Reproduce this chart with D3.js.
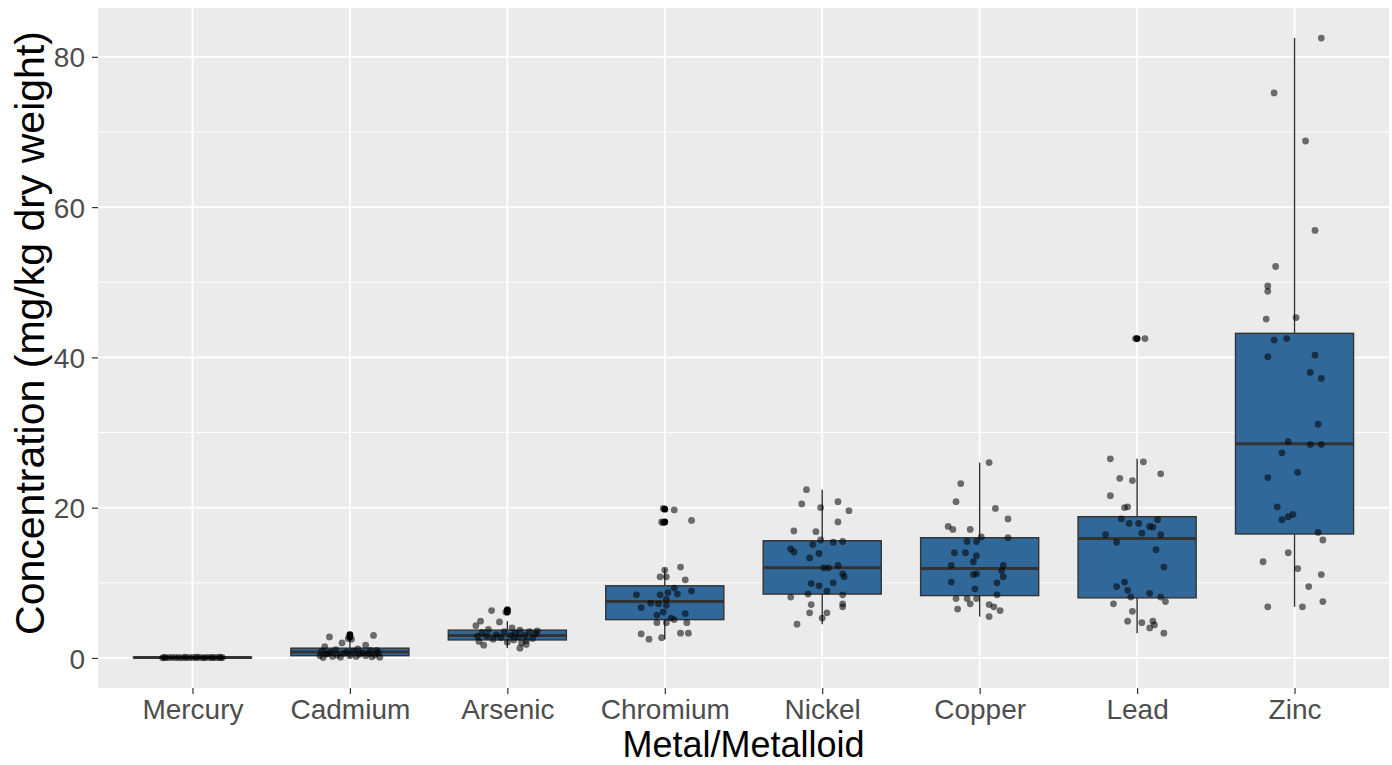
<!DOCTYPE html>
<html>
<head>
<meta charset="utf-8">
<script src="https://cdn.jsdelivr.net/npm/d3@7"></script>
<style>
  body { margin: 0; background: #fff; }
  svg { display: block; }
</style>
</head>
<body>
<div id="chart"></div>
<script>
// metals in plotting order
var metals = ["Mercury", "Cadmium", "Arsenic", "Chromium", "Nickel", "Copper", "Lead", "Zinc"];

// box statistics (mg/kg)
var q1 = [0.03, 0.3, 2.4, 5.1, 8.5, 8.3, 8.0, 16.5];
var medians = [0.05, 0.8, 3.0, 7.5, 12.0, 11.9, 15.9, 28.5];
var q3 = [0.08, 1.3, 3.7, 9.6, 15.6, 16.0, 18.8, 43.2];
var whiskerLow = [0.01, 0.05, 1.3, 2.5, 4.5, 5.5, 3.3, 6.8];
var whiskerHigh = [0.12, 2.6, 4.9, 11.9, 22.4, 26.0, 26.5, 82.5];
var outliers = [[], [2.8, 3.1], [6.1, 6.4], [18.1, 19.8], [], [], [42.5], []];

var yTicks = [0, 20, 40, 60, 80];
var yMinor = [10, 30, 50, 70];

// jittered samples: [concentration, jitter as fraction of category spacing]
var mercury = [[0.02,-0.19],[0.05,-0.17],[0.03,-0.15],[0.08,-0.13],[0.04,-0.11],[0.06,-0.09],[0.02,-0.07],[0.09,-0.05],
  [0.05,-0.04],[0.03,-0.02],[0.07,0.0],[0.04,0.02],[0.1,0.03],[0.06,0.05],[0.02,0.07],[0.05,0.08],[0.08,0.10],
  [0.03,0.12],[0.06,0.13],[0.04,0.15],[0.09,0.17],[0.05,0.19],[0.07,-0.18],[0.03,0.18]];
var cadmium = [[2.8,-0.13],[2.6,-0.01],[2.5,0.01],[3.0,0.15],[2.0,-0.05],[1.7,0.10],[1.5,-0.16],[1.2,0.05],[1.1,-0.09],
  [1.0,0.13],[0.9,-0.18],[0.9,0.02],[0.8,-0.12],[0.7,0.08],[0.7,0.18],[0.6,-0.04],[0.6,0.12],[0.5,-0.15],[0.5,0.06],
  [0.4,-0.08],[0.4,0.16],[0.3,-0.19],[0.3,0.0],[0.3,0.10],[0.2,-0.11],[0.2,0.04],[0.15,0.14],[0.1,-0.06],[0.1,0.19],
  [0.05,-0.17],[0.8,-0.02],[1.0,0.17],[0.6,-0.14]];
var arsenic = [[6.3,-0.10],[6.4,0.0],[6.1,-0.01],[4.9,-0.17],[4.8,-0.05],[4.3,-0.20],[4.0,0.03],[3.8,-0.12],[3.7,0.08],
  [3.5,-0.02],[3.5,0.14],[3.4,-0.16],[3.3,0.05],[3.2,0.18],[3.1,-0.07],[3.0,0.02],[3.0,0.11],[2.9,-0.13],[2.8,0.07],
  [2.7,-0.04],[2.6,0.16],[2.5,-0.09],[2.4,0.04],[2.3,0.12],[2.2,-0.18],[2.1,0.0],[2.0,0.09],[1.8,0.12],[1.7,-0.15],
  [1.3,0.08],[3.6,0.19],[2.9,-0.19]];
var chromium = [[19.7,0.06],[19.9,-0.01],[18.1,-0.02],[18.0,-0.01],[18.3,0.17],[11.7,0.0],[10.8,-0.03],[10.8,0.01],
  [12.1,0.10],[10.4,0.13],[8.9,0.17],[9.3,0.06],[8.7,0.02],[8.4,-0.18],[8.4,-0.03],[8.5,0.08],[7.3,-0.09],[7.2,-0.04],
  [7.0,0.01],[7.8,0.01],[6.7,-0.15],[5.7,-0.05],[6.1,-0.01],[5.9,0.13],[5.3,0.04],[5.1,0.06],[4.7,-0.05],[4.7,0.01],
  [4.7,0.14],[3.2,-0.15],[2.5,-0.10],[2.7,-0.02],[3.3,0.10],[3.3,0.15]];
var nickel = [[22.4,-0.10],[20.5,-0.13],[20.8,0.10],[20.0,-0.01],[19.6,0.17],[18.1,0.10],[16.9,-0.18],[16.8,-0.04],
  [15.7,-0.01],[15.4,0.07],[15.5,0.13],[15.1,-0.06],[14.5,-0.20],[14.1,-0.18],[13.9,-0.02],[13.3,-0.08],[12.0,0.01],
  [12.0,0.04],[12.3,0.10],[11.2,0.13],[10.8,0.14],[10.0,0.07],[9.9,-0.07],[9.6,-0.02],[8.9,0.03],[8.5,-0.09],
  [8.1,-0.20],[8.4,0.13],[7.1,-0.07],[7.2,0.13],[6.8,0.13],[6.0,-0.08],[6.0,0.03],[5.3,0.0],[4.5,-0.16]];
var copper = [[26.0,0.06],[23.2,-0.12],[20.8,-0.15],[19.9,0.10],[18.5,0.18],[17.5,-0.20],[17.1,-0.17],[17.1,-0.06],
  [16.0,0.18],[16.1,0.01],[15.5,-0.08],[15.5,-0.02],[14.0,-0.16],[14.0,-0.09],[13.6,-0.02],[12.8,-0.04],[12.3,-0.18],
  [12.3,0.15],[11.6,0.14],[11.1,-0.04],[11.2,-0.02],[10.8,0.15],[10.1,-0.18],[10.0,0.11],[9.2,-0.03],[8.4,0.11],
  [7.9,-0.15],[7.9,-0.08],[7.9,-0.02],[7.2,-0.06],[6.5,-0.14],[7.1,0.06],[6.8,0.09],[6.3,0.13],[5.5,0.06]];
var lead = [[42.5,0.05],[42.5,-0.01],[26.5,-0.17],[26.1,0.04],[24.5,0.15],[23.9,-0.11],[23.6,-0.03],[21.6,-0.17],
  [20.0,-0.08],[20.1,-0.06],[18.5,-0.10],[18.4,0.13],[17.9,-0.05],[17.9,0.01],[17.5,0.08],[17.4,0.10],[16.4,-0.20],
  [16.6,0.03],[16.4,0.15],[15.4,-0.13],[14.4,0.12],[12.1,0.17],[10.1,-0.08],[9.5,-0.13],[9.0,-0.06],[8.1,-0.04],
  [8.6,0.08],[8.1,0.15],[7.5,0.18],[7.2,-0.15],[6.2,-0.03],[4.9,-0.06],[4.7,0.03],[4.9,0.10],[4.0,0.08],[4.4,0.11],
  [3.3,0.17]];
var zinc = [[82.5,0.17],[75.2,-0.13],[68.8,0.07],[56.9,0.13],[52.1,-0.12],[49.5,-0.17],[48.8,-0.17],[45.1,-0.18],
  [45.3,0.01],[42.3,-0.13],[42.5,-0.05],[40.1,-0.17],[40.3,0.13],[38.0,0.10],[37.2,0.17],[31.1,0.15],[28.8,-0.04],
  [28.4,0.10],[28.4,0.17],[27.3,-0.08],[24.7,0.02],[24.0,-0.17],[20.1,-0.11],[18.4,-0.08],[18.8,-0.04],[19.1,-0.01],
  [16.7,0.15],[15.7,0.18],[14.0,-0.04],[12.8,-0.20],[11.9,0.02],[11.1,0.17],[9.5,0.09],[6.8,-0.17],[6.8,0.05],
  [7.5,0.18]];
var samples = [mercury, cadmium, arsenic, chromium, nickel, copper, lead, zinc];

var W = 1392, H = 765;
var panel = { left: 98, right: 1389, top: 8, bottom: 688 };

var svg = d3.select("#chart").append("svg")
  .attr("width", W)
  .attr("height", H);

var x = d3.scalePoint()
  .domain(metals)
  .range([panel.left, panel.right])
  .padding(0.6);
var step = x.step();

var y = d3.scaleLinear()
  .domain([-4.0, 86.5])
  .range([panel.bottom, panel.top]);

// panel background
svg.append("rect")
  .attr("x", panel.left)
  .attr("y", panel.top)
  .attr("width", panel.right - panel.left)
  .attr("height", panel.bottom - panel.top)
  .attr("fill", "#EBEBEB");

// grid lines
svg.append("g").selectAll("line")
  .data(yMinor)
  .enter().append("line")
  .attr("x1", panel.left).attr("x2", panel.right)
  .attr("y1", function (d) { return y(d); })
  .attr("y2", function (d) { return y(d); })
  .attr("stroke", "#fff").attr("stroke-width", 0.9);

svg.append("g").selectAll("line")
  .data(yTicks)
  .enter().append("line")
  .attr("x1", panel.left).attr("x2", panel.right)
  .attr("y1", function (d) { return y(d); })
  .attr("y2", function (d) { return y(d); })
  .attr("stroke", "#fff").attr("stroke-width", 1.8);

svg.append("g").selectAll("line")
  .data(metals)
  .enter().append("line")
  .attr("x1", function (d) { return x(d); })
  .attr("x2", function (d) { return x(d); })
  .attr("y1", panel.top).attr("y2", panel.bottom)
  .attr("stroke", "#fff").attr("stroke-width", 1.8);

// axes
var yAxis = svg.append("g")
  .attr("transform", "translate(" + panel.left + ",0)")
  .call(d3.axisLeft(y).tickValues(yTicks).tickSize(6).tickPadding(7));
var xAxis = svg.append("g")
  .attr("transform", "translate(0," + panel.bottom + ")")
  .call(d3.axisBottom(x).tickSize(6).tickPadding(3));

[yAxis, xAxis].forEach(function (g) {
  g.select(".domain").remove();
  g.selectAll(".tick line").attr("stroke", "#333").attr("stroke-width", 1.2);
  g.selectAll(".tick text")
    .attr("fill", "#4D4D4D")
    .style("font-family", "Liberation Sans, Arial, sans-serif")
    .style("font-size", "28px");
});
xAxis.selectAll(".tick text").attr("dy", "0.8em");
yAxis.selectAll(".tick text").attr("dy", "0.36em");

// boxplots
var boxW = step * 0.75;
var boxes = svg.append("g").selectAll("g")
  .data(metals)
  .enter().append("g");

boxes.append("line")
  .attr("x1", function (d) { return x(d); })
  .attr("x2", function (d) { return x(d); })
  .attr("y1", function (d, i) { return y(whiskerLow[i]); })
  .attr("y2", function (d, i) { return y(whiskerHigh[i]); })
  .attr("stroke", "#333").attr("stroke-width", 1.4);

boxes.append("rect")
  .attr("x", function (d) { return x(d) - boxW / 2; })
  .attr("y", function (d, i) { return y(q3[i]); })
  .attr("width", boxW)
  .attr("height", function (d, i) { return Math.max(0.5, y(q1[i]) - y(q3[i])); })
  .attr("fill", "#31689A")
  .attr("stroke", "#333").attr("stroke-width", 1.4);

boxes.append("line")
  .attr("x1", function (d) { return x(d) - boxW / 2; })
  .attr("x2", function (d) { return x(d) + boxW / 2; })
  .attr("y1", function (d, i) { return y(medians[i]); })
  .attr("y2", function (d, i) { return y(medians[i]); })
  .attr("stroke", "#333").attr("stroke-width", 3);

boxes.selectAll("circle")
  .data(function (d, i) { return outliers[i].map(function (v) { return { m: d, v: v }; }); })
  .enter().append("circle")
  .attr("cx", function (d) { return x(d.m); })
  .attr("cy", function (d) { return y(d.v); })
  .attr("r", 3.4)
  .attr("fill", "#000");

// jittered points
var pts = [];
samples.forEach(function (arr, i) {
  arr.forEach(function (p) { pts.push({ m: metals[i], v: p[0], j: p[1] }); });
});
svg.append("g").selectAll("circle")
  .data(pts)
  .enter().append("circle")
  .attr("cx", function (d) { return x(d.m) + d.j * step; })
  .attr("cy", function (d) { return y(d.v); })
  .attr("r", 3.4)
  .attr("fill", "#000")
  .attr("fill-opacity", 0.55);

// axis titles
svg.append("text")
  .attr("x", (panel.left + panel.right) / 2)
  .attr("y", 757)
  .attr("text-anchor", "middle")
  .style("font-family", "Liberation Sans, Arial, sans-serif")
  .style("font-size", "36px")
  .attr("fill", "#000")
  .text("Metal/Metalloid");

svg.append("text")
  .attr("transform", "translate(44," + 333 + ") rotate(-90)")
  .attr("text-anchor", "middle")
  .style("font-family", "Liberation Sans, Arial, sans-serif")
  .style("font-size", "41px")
  .attr("fill", "#000")
  .text("Concentration (mg/kg dry weight)");
</script>
</body>
</html>
